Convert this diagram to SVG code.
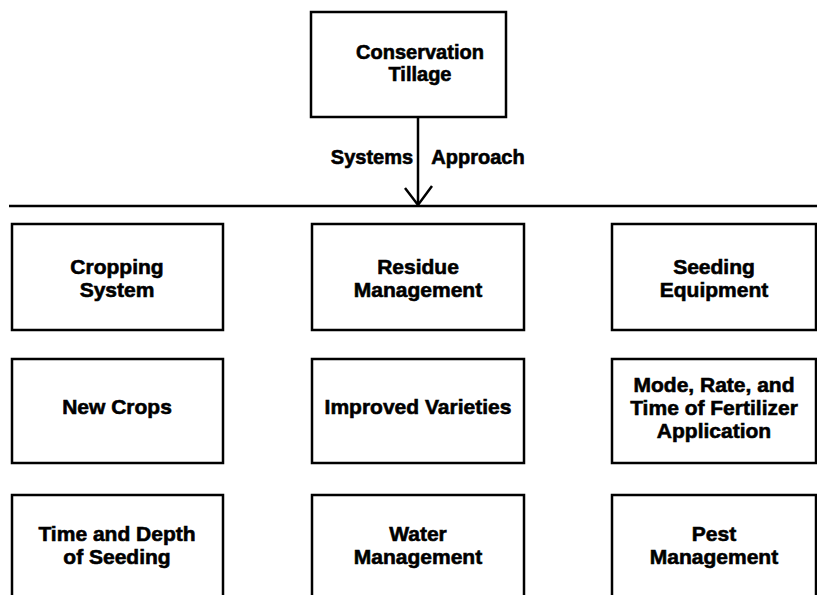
<svg xmlns="http://www.w3.org/2000/svg" width="817" height="595" viewBox="0 0 817 595">
<style>
rect.box{fill:#fff;stroke:#000;stroke-width:2.5}
text{font-family:"Liberation Sans",Arial,sans-serif;font-weight:bold;font-size:21px;text-anchor:middle;fill:#000;stroke:#000;stroke-width:0.6}
.lbl{font-size:20px}
.conn{stroke:#000;stroke-width:2.5;fill:none}
</style>
<rect width="817" height="595" fill="#fff"/>
<g id="connectors">
<line class="conn" x1="9" y1="206" x2="817" y2="206"/>
<line class="conn" x1="418" y1="117" x2="418" y2="205"/>
<polyline class="conn" points="405,188 418,205 432,186" stroke-width="3"/>
<text class="lbl" x="372" y="164">Systems</text>
<text class="lbl" x="478" y="164">Approach</text>
</g>
<g id="conservation-tillage">
<rect class="box" x="311" y="12" width="195" height="105"/>
<text class="lbl" x="420" y="59">Conservation</text>
<text class="lbl" x="420" y="81">Tillage</text>
</g>
<g id="cropping-system">
<rect class="box" x="12" y="224" width="211" height="106"/>
<text x="117" y="274">Cropping</text>
<text x="117" y="297">System</text>
</g>
<g id="residue-management">
<rect class="box" x="312" y="224" width="212" height="106"/>
<text x="418" y="274">Residue</text>
<text x="418" y="297">Management</text>
</g>
<g id="seeding-equipment">
<rect class="box" x="612" y="224" width="204" height="106"/>
<text x="714" y="274">Seeding</text>
<text x="714" y="297">Equipment</text>
</g>
<g id="new-crops">
<rect class="box" x="12" y="359" width="211" height="104"/>
<text x="117" y="414">New Crops</text>
</g>
<g id="improved-varieties">
<rect class="box" x="312" y="359" width="212" height="104"/>
<text x="418" y="414">Improved Varieties</text>
</g>
<g id="fertilizer-application">
<rect class="box" x="612" y="359" width="204" height="104"/>
<text x="714" y="392">Mode, Rate, and</text>
<text x="714" y="415">Time of Fertilizer</text>
<text x="714" y="438">Application</text>
</g>
<g id="time-depth-seeding">
<rect class="box" x="12" y="495" width="211" height="110"/>
<text x="117" y="541">Time and Depth</text>
<text x="117" y="564">of Seeding</text>
</g>
<g id="water-management">
<rect class="box" x="312" y="495" width="212" height="110"/>
<text x="418" y="541">Water</text>
<text x="418" y="564">Management</text>
</g>
<g id="pest-management">
<rect class="box" x="612" y="495" width="204" height="110"/>
<text x="714" y="541">Pest</text>
<text x="714" y="564">Management</text>
</g>
</svg>
